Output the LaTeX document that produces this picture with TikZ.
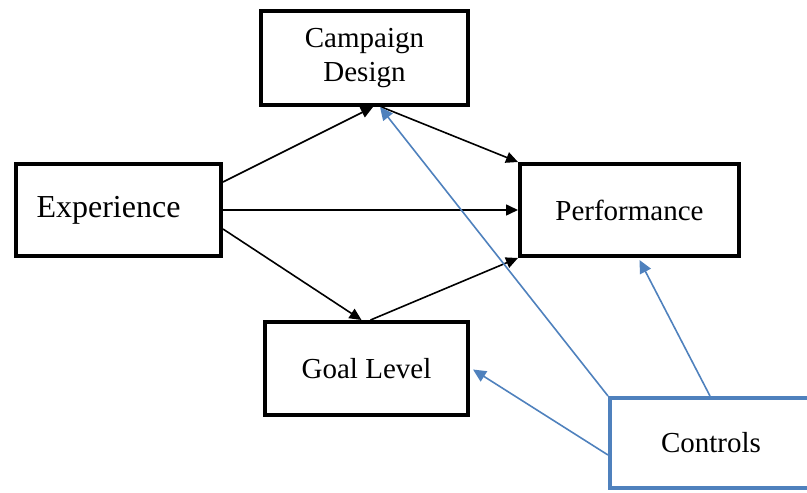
\documentclass[tikz,border=0pt]{standalone}
\usepackage{fontspec}
\setmainfont{Liberation Serif}
\usetikzlibrary{calc,arrows.meta}
\definecolor{ctrlblue}{HTML}{4F81BD}
\tikzset{
  box/.style={draw=black, line width=4pt, fill=white, align=center, inner sep=0pt,
    font=\fontsize{29}{33.5}\selectfont},
  cbox/.style={box, draw=ctrlblue},
  arr/.style={line width=1.6pt, -{Triangle[length=12pt,width=11pt]}},
  barr/.style={arr, draw=ctrlblue, -{Triangle[length=13pt,width=12pt,fill=ctrlblue]}, color=ctrlblue},
}
\begin{document}
\begin{tikzpicture}[x=1pt,y=-1pt]
\useasboundingbox (0,0) rectangle (807,493);
\clip (0,0) rectangle (807,493);
\node[box, minimum width=207pt, minimum height=94pt] (camp) at (364.5,58) {Campaign\\Design};
\node[box, minimum width=205pt, minimum height=92pt, font=\fontsize{32}{35}\selectfont] (exp) at (118.5,210) {\hspace*{-20pt}Experience};
\node[box, minimum width=219pt, minimum height=92pt] (perf) at (629.5,210) {Performance};
\node[box, minimum width=203pt, minimum height=93pt] (goal) at (366.5,368.5) {Goal Level};
\node[cbox, minimum width=202pt, minimum height=90pt] (ctrl) at (711,443) {Controls};
% black arrows
\draw[arr] ($(exp.east)+(0,-28)$) -- ($(camp.south)+(8.5,0)$);
\draw[arr] ($(camp.south)+(17,0)$) -- (perf.north west);
\draw[arr] (exp.east) -- (perf.west);
\draw[arr] ($(exp.east)+(0,19)$) -- ($(goal.north)+(-5,0)$);
\draw[arr] ($(goal.north)+(4,0)$) -- (perf.south west);
% blue arrows
\draw[barr] (ctrl.north west) -- ($(camp.south)+(15.5,0)$);
\draw[barr] ($(ctrl.west)+(0,12)$) -- ($(goal.east)+(3,1)$);
\draw[barr] ($(ctrl.north)+(-1,0)$) -- ($(perf.south)+(10,2)$);
\end{tikzpicture}
\end{document}
